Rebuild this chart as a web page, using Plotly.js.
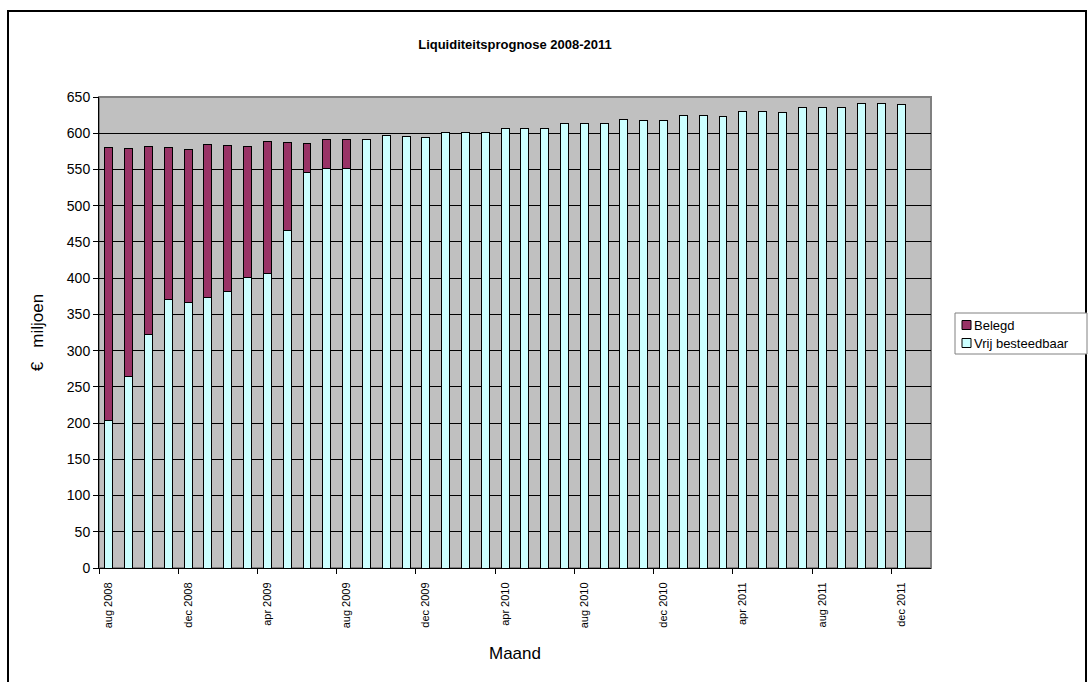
<!DOCTYPE html>
<html>
<head>
<meta charset="utf-8">
<script src="https://cdn.plot.ly/plotly-3.0.1.min.js"></script>
<style>html,body{margin:0;padding:0;background:#fff;}#chart{width:1088px;height:682px;}</style>
</head>
<body>
<div id="chart"></div>
<script>
// Months (categories); the last slot (jan 2012) is empty in the source chart
const months = [
  "aug 2008","sep 2008","okt 2008","nov 2008","dec 2008",
  "jan 2009","feb 2009","mrt 2009","apr 2009","mei 2009","jun 2009","jul 2009","aug 2009","sep 2009","okt 2009","nov 2009","dec 2009",
  "jan 2010","feb 2010","mrt 2010","apr 2010","mei 2010","jun 2010","jul 2010","aug 2010","sep 2010","okt 2010","nov 2010","dec 2010",
  "jan 2011","feb 2011","mrt 2011","apr 2011","mei 2011","jun 2011","jul 2011","aug 2011","sep 2011","okt 2011","nov 2011","dec 2011",
  "jan 2012"
];
// Vrij besteedbaar (€ miljoen)
const vrij = [203, 264, 322, 370, 367, 373, 382, 401, 407, 466, 546, 552, 551,
  591, 597, 596, 594, 601, 601, 601, 607, 607, 606, 613, 613, 613,
  619, 618, 618, 625, 624, 623, 630, 630, 629, 635, 635, 635, 641, 641, 640];
// Belegd (€ miljoen) - only aug 2008 .. aug 2009
const belegd = [377, 315, 260, 211, 211, 211, 201, 181, 181, 121, 40, 40, 40];
const yTicks = [0,50,100,150,200,250,300,350,400,450,500,550,600,650];
const seriesNames = ["Belegd", "Vrij besteedbaar"];
const seriesColors = ["#993366", "#CCFFFF"];

const idxV = vrij.map((_, i) => i);
const idxB = belegd.map((_, i) => i);
const labelIdx = months.map((_, i) => i).filter(i => i % 4 === 0 && i < vrij.length);
const boundaryIdx = labelIdx.map(i => i - 0.5);

const font = "Arial, 'Liberation Sans', sans-serif";

const traces = [
  {type: "bar", name: seriesNames[1], x: idxV, y: vrij, width: 0.4,
   marker: {color: seriesColors[1], line: {color: "#000000", width: 1}}, hoverinfo: "y"},
  {type: "bar", name: seriesNames[0], x: idxB, y: belegd, width: 0.4,
   marker: {color: seriesColors[0], line: {color: "#000000", width: 1}}, hoverinfo: "y"}
];

// pixel -> paper helpers for the frame and legend box (plot area 99..931 x 97..568)
const PL = 99, PW = 832, PB = 568, PH = 471;
const px = v => (v - PL) / PW;
const py = v => (PB - v) / PH;

const legendRows = [325, 343];
const shapes = [
  {type: "rect", xref: "paper", yref: "paper", x0: 0, x1: 1, y0: 0, y1: 1,
   line: {color: "#808080", width: 2}, layer: "below"},
  {type: "rect", xref: "paper", yref: "paper",
   x0: px(8), x1: px(1086), y0: py(695), y1: py(11),
   line: {color: "#000000", width: 2}},
  {type: "rect", xref: "paper", yref: "paper",
   x0: px(955), x1: px(1087), y0: py(354), y1: py(313),
   line: {color: "#808080", width: 1}, fillcolor: "#ffffff"}
];
const annotations = [];
seriesNames.forEach((n, k) => {
  const cy = legendRows[k];
  shapes.push({type: "rect", xref: "paper", yref: "paper",
    x0: px(962), x1: px(971), y0: py(cy + 4.5), y1: py(cy - 4.5),
    line: {color: "#000000", width: 1}, fillcolor: seriesColors[k]});
  annotations.push({xref: "paper", yref: "paper", x: px(972), y: py(cy),
    xanchor: "left", yanchor: "middle", showarrow: false, text: n,
    font: {family: font, size: 13, color: "#000"}});
});

const layout = {
  width: 1088, height: 682,
  margin: {l: 99, r: 157, t: 97, b: 114},
  paper_bgcolor: "#ffffff",
  plot_bgcolor: "#C0C0C0",
  barmode: "stack",
  showlegend: false,
  font: {family: font, color: "#000000"},
  title: {text: "<b>Liquiditeitsprognose 2008-2011</b>", font: {family: font, size: 13, color: "#000"},
          x: 0.5, xref: "paper", y: 1 - 44/682, yref: "container", yanchor: "middle"},
  xaxis: {
    range: [-0.5, months.length - 0.5],
    tickvals: labelIdx, ticktext: labelIdx.map(i => months[i]),
    tickangle: -90, tickfont: {size: 11, family: font},
    ticks: "outside", ticklen: 9, tickcolor: "rgba(0,0,0,0)",
    minor: {tickvals: boundaryIdx, ticks: "outside", ticklen: 5, tickcolor: "#000", tickwidth: 1, showgrid: false},
    showgrid: false, zeroline: false,
    showline: true, linecolor: "#000", linewidth: 1,
    title: {text: "Maand", font: {size: 17, family: font}, standoff: 19},
    automargin: false, fixedrange: true
  },
  yaxis: {
    range: [0, 650], tickvals: yTicks, ticktext: yTicks.map(String),
    tickfont: {size: 14, family: font},
    ticks: "outside", ticklen: 5, tickcolor: "#000",
    showgrid: true, gridcolor: "#000000", gridwidth: 1,
    zeroline: false, showline: true, linecolor: "#000", linewidth: 1,
    title: {text: "€   miljoen", font: {size: 17, family: font}, standoff: 18},
    automargin: false, fixedrange: true
  },
  shapes: shapes,
  annotations: annotations,
  bargap: 0
};

Plotly.newPlot("chart", traces, layout, {displayModeBar: false, staticPlot: true});
</script>
</body>
</html>
